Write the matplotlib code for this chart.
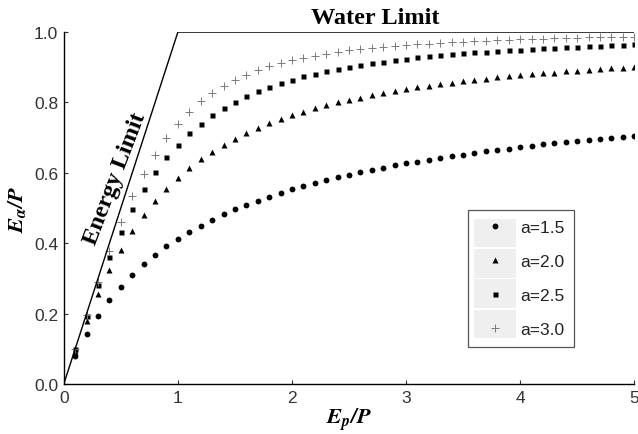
import numpy as np
import matplotlib
matplotlib.use("Agg")
import matplotlib.pyplot as plt
from matplotlib.patches import Rectangle

# dryness index Ep/P
ep_p = [0.1, 0.2, 0.3, 0.4, 0.5, 0.6, 0.7, 0.8, 0.9, 1.0,
        1.1, 1.2, 1.3, 1.4, 1.5, 1.6, 1.7, 1.8, 1.9, 2.0,
        2.1, 2.2, 2.3, 2.4, 2.5, 2.6, 2.7, 2.8, 2.9, 3.0,
        3.1, 3.2, 3.3, 3.4, 3.5, 3.6, 3.7, 3.8, 3.9, 4.0,
        4.1, 4.2, 4.3, 4.4, 4.5, 4.6, 4.7, 4.8, 4.9, 5.0]

# evaporative index Ea/P for each parameter a
ea_15 = [0.079, 0.141, 0.193, 0.238, 0.276, 0.310, 0.340, 0.367, 0.391, 0.413,
         0.432, 0.450, 0.467, 0.482, 0.496, 0.509, 0.521, 0.532, 0.543, 0.553,
         0.562, 0.571, 0.579, 0.587, 0.594, 0.601, 0.608, 0.614, 0.621, 0.627,
         0.632, 0.637, 0.642, 0.647, 0.652, 0.656, 0.661, 0.665, 0.669, 0.673,
         0.677, 0.681, 0.684, 0.688, 0.691, 0.694, 0.697, 0.700, 0.703, 0.706]
ea_20 = [0.095, 0.180, 0.256, 0.323, 0.382, 0.434, 0.479, 0.519, 0.555, 0.586,
         0.613, 0.638, 0.660, 0.680, 0.697, 0.713, 0.728, 0.741, 0.753, 0.764,
         0.774, 0.783, 0.792, 0.800, 0.807, 0.814, 0.821, 0.827, 0.832, 0.838,
         0.843, 0.847, 0.852, 0.856, 0.860, 0.864, 0.867, 0.871, 0.874, 0.877,
         0.880, 0.883, 0.885, 0.888, 0.890, 0.893, 0.895, 0.897, 0.899, 0.901]
ea_25 = [0.099, 0.193, 0.281, 0.361, 0.433, 0.497, 0.553, 0.602, 0.644, 0.680,
         0.712, 0.740, 0.763, 0.784, 0.802, 0.818, 0.832, 0.845, 0.856, 0.865,
         0.874, 0.882, 0.889, 0.896, 0.902, 0.907, 0.912, 0.916, 0.920, 0.924,
         0.928, 0.931, 0.934, 0.937, 0.940, 0.942, 0.944, 0.946, 0.948, 0.950,
         0.952, 0.954, 0.955, 0.957, 0.958, 0.960, 0.961, 0.962, 0.964, 0.965]
ea_30 = [0.100, 0.197, 0.291, 0.379, 0.460, 0.533, 0.597, 0.652, 0.700, 0.740,
         0.774, 0.803, 0.827, 0.847, 0.864, 0.879, 0.892, 0.903, 0.912, 0.920,
         0.927, 0.933, 0.938, 0.943, 0.948, 0.952, 0.955, 0.958, 0.961, 0.963,
         0.965, 0.967, 0.969, 0.971, 0.973, 0.974, 0.975, 0.977, 0.978, 0.979,
         0.980, 0.981, 0.982, 0.983, 0.984, 0.985, 0.985, 0.986, 0.986, 0.987]

# energy / water limit envelope
limit_x = [0, 1, 5]
limit_y = [0, 1, 1]

labels = ["a=1.5", "a=2.0", "a=2.5", "a=3.0"]

plt.rcParams["mathtext.fontset"] = "stix"
plt.rcParams["font.family"] = ["Liberation Sans", "DejaVu Sans"]

fig = plt.figure(figsize=(6.38, 4.35), dpi=100)
ax = fig.add_axes([0.100, 0.115, 0.894, 0.809])

ax.plot(limit_x, limit_y, color="black", lw=1.0, zorder=3)

ax.plot(ep_p, ea_15, ls="none", marker="o", ms=4.2, color="black", mec="none", label=labels[0])
ax.plot(ep_p, ea_20, ls="none", marker="^", ms=4.6, color="black", mec="none", label=labels[1])
ax.plot(ep_p, ea_25, ls="none", marker="s", ms=3.6, color="black", mec="none", label=labels[2])
ax.plot(ep_p, ea_30, ls="none", marker="+", ms=6.0, mew=0.7, color="#7a7a7a", label=labels[3])

ax.set_xlim(0, 5)
ax.set_ylim(0, 1)
ax.set_xticks([0, 1, 2, 3, 4, 5])
ax.set_yticks([0.0, 0.2, 0.4, 0.6, 0.8, 1.0])
ax.set_yticklabels(["0.0", "0.2", "0.4", "0.6", "0.8", "1.0"])
ax.tick_params(direction="in", length=3, width=0.8, labelsize=12.5, colors="#333333", pad=4)
ax.spines["top"].set_visible(False)
ax.spines["right"].set_visible(False)
ax.spines["left"].set_linewidth(1.0)
ax.spines["bottom"].set_linewidth(1.0)

ax.set_xlabel(r"$\mathbfit{E_p/P}$", fontsize=16, labelpad=1)
ax.set_ylabel(r"$\mathbfit{E_\alpha/P}$", fontsize=16, labelpad=4)

ax.text(2.73, 1.012, "Water Limit", family="Liberation Serif", weight="bold",
        fontsize=17.5, ha="center", va="bottom")
ax.text(0.45, 0.585, "Energy Limit", family="Liberation Serif", weight="bold",
        fontsize=17.5, ha="center", va="center", rotation=69)

leg = ax.legend(loc="upper left", bbox_to_anchor=(0.7088, 0.4943), frameon=True,
                fancybox=False, edgecolor="#555555", facecolor="white", framealpha=1,
                fontsize=12.5, handlelength=2.0, handletextpad=0.45, borderpad=0.55,
                labelspacing=1.1, borderaxespad=0)
leg.get_frame().set_linewidth(0.9)
for txt in leg.get_texts():
    txt.set_color("#222222")

# light grey cells behind the legend markers
fig.canvas.draw()
inv = fig.transFigure.inverted()
bb = leg.get_window_extent().transformed(inv)
text_bb = leg.get_texts()[0].get_window_extent().transformed(inv)
cell_right = text_bb.x0 - 0.006
pad_x = 0.009
pad_y = 0.018
row_h = (bb.height - 2 * pad_y) / 4
for i in range(4):
    y0 = bb.y0 + pad_y + i * row_h
    fig.patches.append(Rectangle((bb.x0 + pad_x, y0 + 0.002), cell_right - bb.x0 - pad_x,
                                 row_h - 0.004, transform=fig.transFigure,
                                 facecolor="#efefef", edgecolor="none", zorder=1))
leg.get_frame().set_facecolor("none")
leg.set_zorder(6)
fig.patches.insert(0, Rectangle((bb.x0, bb.y0), bb.width, bb.height,
                                transform=fig.transFigure, facecolor="white",
                                edgecolor="none", zorder=0))
ax.patch.set_alpha(0)
ax.set_zorder(2)

fig.savefig("out.png", dpi=100)
